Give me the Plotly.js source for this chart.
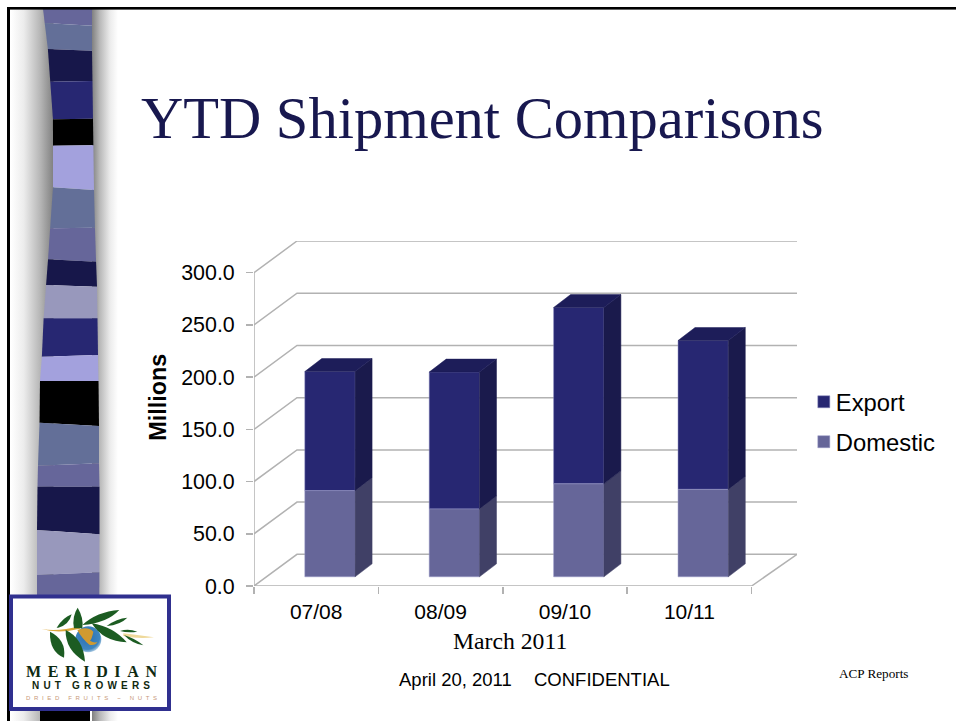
<!DOCTYPE html>
<html>
<head>
<meta charset="utf-8">
<script src="https://cdn.plot.ly/plotly-3.0.1.min.js"></script>
<style>
html,body{margin:0;padding:0;background:#fff;overflow:hidden;width:956px;height:721px}
#decor{position:absolute;left:0;top:0}
#chart{position:absolute;left:0;top:0;width:956px;height:721px}
</style>
</head>
<body>
<svg id="decor" width="956" height="721" xmlns="http://www.w3.org/2000/svg"></svg>
<div id="chart"></div>
<script>
// ---- chart data ----
var categories = ['07/08','08/09','09/10','10/11'];
var domestic = [82.5, 65.0, 89.0, 83.7];
var exportVals = [114.0, 131.0, 168.8, 142.5];
var yTicks = [0,50,100,150,200,250,300];
var yTickText = ['0.0','50.0','100.0','150.0','200.0','250.0','300.0'];

// ---- plot geometry & style ----
var PL=254, PR=797.2, PT=241, PB=586.5;
var pxPerCat=124.45, pxPerVal=1.046;
var xMax=(PR-PL)/pxPerCat;
var wallDx=43/pxPerCat, wallDy=31.7/pxPerVal;
var barDx=17/pxPerCat, barDy=13/pxPerVal;
var floorBase=9.2/pxPerVal, barOffset=0.5+13.75/pxPerCat, barWidth=50.3/pxPerCat;
var nCat=categories.length;
var GRID='#b2b2b2';
var COL={exp:'#272772',expSide:'#1a1a4c',expTop:'#1d1d59',dom:'#666699',domSide:'#404066'};
function px(x){return (x-PL)/(PR-PL);}
function py(y){return (PB-y)/(PB-PT);}

// ---- gridlines & walls (under the bars) ----
var shapes=[];
function pathShape(p,w){shapes.push({type:'path',xref:'x',yref:'y',layer:'below',path:p,line:{color:GRID,width:w||1.5}});}
yTicks.forEach(function(v){
  pathShape('M0,'+v+' L'+wallDx+','+(v+wallDy)+' L'+xMax+','+(v+wallDy));
});
pathShape('M0,0 L'+nCat+',0 L'+xMax+','+wallDy);
pathShape('M0,0 L0,300');

// ---- 3D faces derived from the values ----
var traces=[];
function face(xs,ys,color){
  traces.push({type:'scatter',mode:'lines',x:xs,y:ys,fill:'toself',fillcolor:color,
    line:{color:color,width:0.5},showlegend:false,hoverinfo:'skip',cliponaxis:false});
}
categories.forEach(function(c,i){
  var xl=i+barOffset-barWidth/2, xr=i+barOffset+barWidth/2;
  var y0=floorBase, y1=floorBase+domestic[i], y2=y1+exportVals[i];
  face([xr,xr+barDx,xr+barDx,xr,xr],[y0,y0+barDy,y1+barDy,y1,y0],COL.domSide);
  face([xr,xr+barDx,xr+barDx,xr,xr],[y1,y1+barDy,y2+barDy,y2,y1],COL.expSide);
  face([xl,xr,xr+barDx,xl+barDx,xl],[y2,y2,y2+barDy,y2+barDy,y2],COL.expTop);
});
var xs=categories.map(function(c,i){return i+barOffset;});
traces.push({type:'bar',name:'Export',legendgroup:'e',x:xs,y:exportVals,width:barWidth,
  base:domestic.map(function(d){return d+floorBase;}),
  marker:{color:COL.exp,line:{color:'#8a8ac0',width:0.5}},hoverinfo:'skip'});
traces.push({type:'bar',name:'Domestic',legendgroup:'d',x:xs,y:domestic,width:barWidth,
  base:domestic.map(function(){return floorBase;}),
  marker:{color:COL.dom,line:{color:'#9a9ac8',width:0.5}},hoverinfo:'skip'});

function note(text,x,y,size,family,extra){
  var a={text:text,xref:'paper',yref:'paper',x:px(x),y:py(y),xanchor:'left',yanchor:'middle',showarrow:false,
    font:{size:size,family:family,color:'#000'}};
  for(var k in (extra||{}))a[k]=extra[k];
  return a;
}
var SANS='"Liberation Sans",Arial,sans-serif', SERIF='"Liberation Serif","Times New Roman",serif';

var layout={
  width:956,height:721,autosize:false,
  margin:{l:PL,r:956-PR,t:PT,b:721-PB,pad:0,autoexpand:false},
  paper_bgcolor:'rgba(0,0,0,0)',plot_bgcolor:'rgba(0,0,0,0)',
  barmode:'overlay',
  title:{text:'YTD Shipment Comparisons',x:141/956,xanchor:'left',xref:'container',y:1-118/721,yanchor:'middle',
    font:{family:SERIF,size:58.5,color:'#18184f'}},
  font:{family:SANS,color:'#000'},
  xaxis:{range:[0,xMax],tickmode:'array',tickvals:categories.map(function(c,i){return i+0.5;}),ticktext:categories,
    ticks:'',showgrid:false,zeroline:false,showline:false,tickfont:{size:21,family:SANS,color:'#000'},ticklabelstandoff:11,
    minor:{tickmode:'array',tickvals:[0,1,2,3,4],ticks:'outside',ticklen:7,tickwidth:1.5,tickcolor:GRID,showgrid:false}},
  yaxis:{range:[0,300+wallDy],tickmode:'array',tickvals:yTicks,ticktext:yTickText,ticks:'outside',ticklen:7,tickwidth:1.5,tickcolor:GRID,
    showgrid:false,zeroline:false,showline:false,tickfont:{size:21.4,family:SANS,color:'#000'},ticklabelstandoff:7},
  shapes:shapes,
  showlegend:true,
  legend:{x:px(804),y:py(380),xanchor:'left',yanchor:'top',bgcolor:'rgba(0,0,0,0)',traceorder:'grouped',tracegroupgap:6,
    font:{size:23.8,family:SANS,color:'#000'}},
  annotations:[
    note('<b>Millions</b>',158,398,23.4,SANS,{textangle:-90,xanchor:'center'}),
    note('March 2011',451,641.5,23.7,SERIF),
    note('April 20, 2011',397,680,18.5,SANS),
    note('CONFIDENTIAL',532,680,18.5,SANS),
    note('ACP Reports',837,674,13.2,SERIF)
  ]
};

Plotly.newPlot('chart',traces,layout,{displayModeBar:false,staticPlot:true}).then(function(){
  document.querySelectorAll('#chart .legend .legendtext').forEach(function(t){t.setAttribute('x','32');});
});

// ---- slide decoration (behind the chart) ----
var svg=document.getElementById('decor');
var profile=[[9,43,92],[50,48,92],[120,53,93],[190,53,94],[230,50,95],[260,48,96],[286,46,97],[320,43.5,97.5],[355,42,98],[380,40,98.5],[425,39.5,99],[465,38,99],[487,37.5,99.5],[530,37,99.5],[721,37,99]];
function edge(y,k){
  for(var i=1;i<profile.length;i++){
    if(y<=profile[i][0]){var a=profile[i-1],b=profile[i],t=(y-a[0])/(b[0]-a[0]);return a[k]+(b[k]-a[k])*t;}
  }
  return profile[profile.length-1][k];
}
var B='#17174a',D='#272772',L='#a3a1dd',G='#636f98',M='#66669a',H='#9898bc',K='#000000';
// [colour, left y of lower edge, right y of lower edge]
var bands=[[M,23,25.7],[G,49,50.7],[B,81.7,81],[D,119.3,118.7],[K,145.7,145.3],[L,187.3,190],[G,228.3,227.7],[M,259.3,261.7],[B,285,286.7],[H,318.3,318.3],[D,356.7,355],[L,381,381],[K,422.7,426],[G,465.7,463.3],[M,486.7,486.7],[B,530,534.3],[H,575,572.3],[M,600,600]];
var h='<defs>'+
 '<linearGradient id="gl"><stop offset="0" stop-color="#ffffff"/><stop offset="0.3" stop-color="#ececec"/><stop offset="0.7" stop-color="#b4b4b4"/><stop offset="1" stop-color="#808080"/></linearGradient>'+
 '<linearGradient id="gr"><stop offset="0" stop-color="#808080"/><stop offset="0.3" stop-color="#b8b8b8"/><stop offset="0.7" stop-color="#ececec"/><stop offset="1" stop-color="#ffffff"/></linearGradient>'+
 '<radialGradient id="globe" cx="0.45" cy="0.4" r="0.65"><stop offset="0" stop-color="#2a6fb0"/><stop offset="0.75" stop-color="#3f86c0"/><stop offset="1" stop-color="#d8e6f0"/></radialGradient>'+
 '</defs>';
h+='<rect x="11" y="9" width="42.5" height="712" fill="url(#gl)"/>';
h+='<rect x="92" y="9" width="26" height="712" fill="url(#gr)"/>';
var prevL=9,prevR=9;
bands.forEach(function(b){
  var p=[];
  p.push([edge(prevL,1),prevL],[edge(prevR,2),prevR],[edge(b[2],2),b[2]],[edge(b[1],1),b[1]]);
  h+='<polygon fill="'+b[0]+'" points="'+p.map(function(q){return q.join(',');}).join(' ')+'"/>';
  prevL=b[1];prevR=b[2];
});
h+='<rect x="40" y="705" width="50" height="16" fill="#000"/>';
h+='<rect x="7" y="7" width="949" height="2.6" fill="#000"/><rect x="7" y="7" width="3" height="714" fill="#000"/>';
// logo
h+='<rect x="11" y="596.5" width="158" height="112.5" fill="#fff" stroke="#30308f" stroke-width="4"/>';
h+='<g transform="translate(0,580) scale(0.33333)">'+
 '<path d="M125 147 Q175 156 240 138 L240 146 Q175 162 125 147Z" fill="#dca83c"/>'+
 '<path d="M370 160 Q420 166 462 172 Q415 178 370 168Z" fill="#efd99a"/>'+
 '<circle cx="265" cy="178" r="39" fill="url(#globe)"/>'+
 '<path d="M232 150 Q262 138 280 155 Q276 176 270 182 Q282 190 292 186 Q286 197 268 194 Q246 176 232 150Z" fill="#d09a30"/>'+
 '<g fill="#1c5c22">'+
 '<path d="M150 155 Q148 215 192 233 Q200 180 150 155Z"/>'+
 '<path d="M197 150 Q195 210 255 245 Q250 175 197 150Z"/>'+
 '<path d="M170 143 Q190 112 215 103 Q207 135 175 143Z"/>'+
 '<path d="M222 145 Q215 110 233 83 Q252 115 247 145Z"/>'+
 '<path d="M247 135 Q290 95 358 90 Q320 130 247 135Z"/>'+
 '<path d="M320 138 Q350 115 382 113 Q360 135 320 138Z"/>'+
 '<path d="M275 130 Q340 140 380 187 Q310 185 275 130Z"/>'+
 '<path d="M360 153 Q385 145 412 155 Q385 160 360 153Z"/>'+
 '<path d="M372 165 Q405 175 430 196 Q395 190 372 165Z"/>'+
 '</g></g>';
h+='<text x="26" y="676.5" textLength="131" lengthAdjust="spacing" font-family="Liberation Serif" font-weight="bold" font-size="16" fill="#0e2a12">MERIDIAN</text>';
h+='<text x="32" y="689" textLength="118" lengthAdjust="spacing" font-family="Liberation Sans" font-weight="bold" font-size="10" fill="#10280f">NUT GROWERS</text>';
h+='<text x="26" y="699.5" textLength="131" lengthAdjust="spacing" font-family="Liberation Sans" font-size="6" fill="#c89878">DRIED FRUITS ~ NUTS</text>';
svg.innerHTML=h;
</script>
</body>
</html>
